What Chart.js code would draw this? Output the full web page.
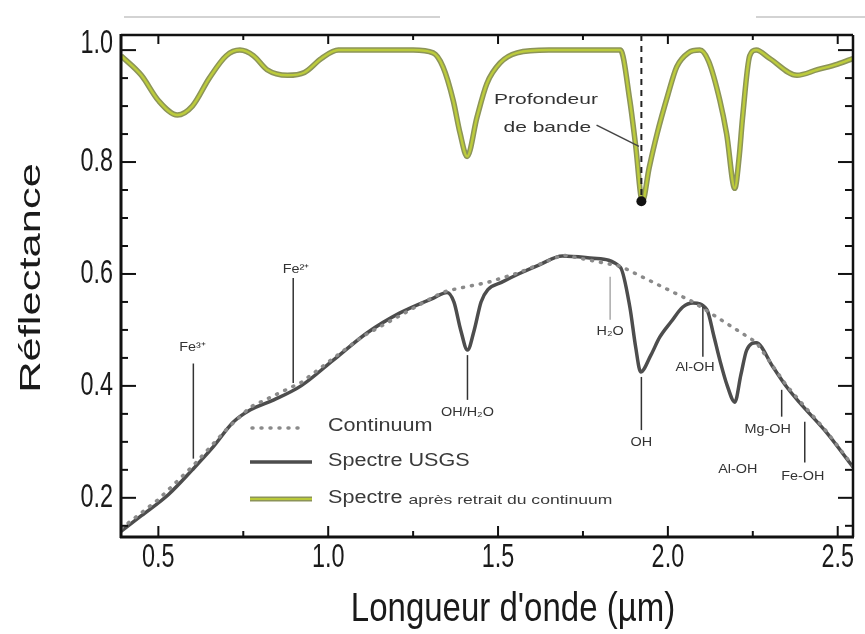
<!DOCTYPE html>
<html>
<head>
<meta charset="utf-8">
<script src="https://cdn.jsdelivr.net/npm/chart.js@4.4.1/dist/chart.umd.min.js"></script>
<style>
  html, body { margin: 0; padding: 0; background: #fff; }
  #wrap { width: 865px; height: 634px; }
</style>
</head>
<body>
<div id="wrap"><canvas id="chart" width="865" height="634"></canvas></div>
<script>
// spectre apres retrait du continuum
const wlRemoved = [0.39, 0.45, 0.50, 0.556, 0.60, 0.65, 0.70, 0.74, 0.78, 0.82, 0.88, 0.93, 0.98, 1.03, 1.15, 1.25, 1.309,
  1.338, 1.368, 1.388, 1.409, 1.438, 1.467, 1.506, 1.556, 1.65, 1.80, 1.86, 1.888, 1.905, 1.925, 1.945, 1.968, 2.0,
  2.026, 2.06, 2.094, 2.12, 2.153, 2.173, 2.197, 2.21, 2.22, 2.241, 2.26, 2.30, 2.38, 2.44, 2.50, 2.545];
const reflRemoved = [0.99, 0.955, 0.91, 0.884, 0.90, 0.95, 0.99, 1.0, 0.99, 0.965, 0.955, 0.96, 0.985, 1.0, 1.0, 1.0, 0.995,
  0.97, 0.91, 0.852, 0.81, 0.88, 0.94, 0.977, 0.995, 1.0, 1.0, 1.0, 0.91, 0.83, 0.73, 0.79, 0.85, 0.92,
  0.97, 0.995, 1.0, 0.98, 0.91, 0.85, 0.753, 0.81, 0.88, 0.99, 1.0, 0.985, 0.955, 0.965, 0.975, 0.985];

// spectre USGS
const wlUsgs = [0.39, 0.45, 0.53, 0.60, 0.66, 0.72, 0.77, 0.84, 0.92, 1.015, 1.115, 1.21, 1.31, 1.35, 1.37, 1.39, 1.41,
  1.43, 1.45, 1.47, 1.51, 1.56, 1.62, 1.69, 1.78, 1.86, 1.888, 1.905, 1.92, 1.95, 1.976, 2.01, 2.044, 2.074, 2.115,
  2.135, 2.153, 2.175, 2.197, 2.215, 2.232, 2.26, 2.309, 2.35, 2.388, 2.468, 2.545];
const reflUsgs = [0.14, 0.168, 0.206, 0.25, 0.29, 0.335, 0.357, 0.375, 0.40, 0.446, 0.495, 0.53, 0.557, 0.567, 0.55, 0.50, 0.464,
  0.50, 0.55, 0.572, 0.585, 0.60, 0.616, 0.632, 0.628, 0.612, 0.541, 0.47, 0.425, 0.455, 0.487, 0.515, 0.541, 0.548, 0.536,
  0.49, 0.446, 0.40, 0.371, 0.42, 0.464, 0.477, 0.434, 0.398, 0.37, 0.316, 0.255];

// continuum
const wlContinuum = [0.39, 0.50, 0.60, 0.70, 0.77, 0.92, 1.10, 1.31, 1.35, 1.47, 1.56, 1.69, 1.86, 2.074, 2.26, 2.35, 2.468, 2.545];
const reflContinuum = [0.145, 0.197, 0.256, 0.322, 0.362, 0.406, 0.488, 0.559, 0.57, 0.585, 0.602, 0.634, 0.614, 0.55, 0.478, 0.40, 0.318, 0.257];

const xTickValues = [0.5, 1.0, 1.5, 2.0, 2.5];
const xTickLabels = ["0.5", "1.0", "1.5", "2.0", "2.5"];
const yTickValues = [0.2, 0.4, 0.6, 0.8, 1.0];
const yTickLabels = ["0.2", "0.4", "0.6", "0.8", "1.0"];
const xMinorTicks = [0.75, 1.25, 1.75, 2.25];
const yMinorTicks = [0.15, 0.25, 0.3, 0.35, 0.45, 0.5, 0.55, 0.65, 0.7, 0.75, 0.85, 0.9, 0.95];

// bandes d'absorption: longueur d'onde, trait de/vers, position du texte
const bandNames = ["Fe³⁺", "Fe²⁺", "OH/H₂O", "H₂O", "OH", "Al-OH", "Al-OH", "Mg-OH", "Fe-OH"];
const bandWl = [0.603, 0.897, 1.41, 1.83, 1.922, 2.103, 2.206, 2.335, 2.403];
const bandLineTop = [0.44, 0.593, 0.455, 0.595, 0.416, 0.541, null, 0.393, 0.336];
const bandLineBottom = [0.27, 0.405, 0.375, 0.518, 0.321, 0.452, null, 0.345, 0.263];
const bandTextWl = [0.60, 0.905, 1.41, 1.83, 1.922, 2.08, 2.206, 2.294, 2.397];
const bandTextRefl = [0.468, 0.608, 0.352, 0.496, 0.298, 0.432, 0.25, 0.321, 0.2375];

// profondeur de bande a 1.9 um
const depthWl = 1.922;
const depthRefl = 0.73;

const legendLabels = ["Continuum", "Spectre USGS", "Spectre", "après retrait du continuum"];

const zip = (xs, ys) => xs.map((x, i) => ({ x: x, y: ys[i] }));
const FONT = '"Liberation Sans", Arial, sans-serif';

function stretchText(ctx, str, x, y, size, sx, sy, align, rot) {
  ctx.save();
  ctx.translate(x, y);
  if (rot) ctx.rotate(rot);
  ctx.scale(sx, sy);
  ctx.font = size + "px " + FONT;
  ctx.textAlign = align || "center";
  ctx.textBaseline = "middle";
  ctx.fillText(str, 0, 0);
  ctx.restore();
}

function line(ctx, x1, y1, x2, y2) {
  ctx.beginPath();
  ctx.moveTo(x1, y1);
  ctx.lineTo(x2, y2);
  ctx.stroke();
}

const decor = {
  id: "decor",
  beforeDraw(chart) {
    const ctx = chart.ctx;
    ctx.save();
    ctx.fillStyle = "#fff";
    ctx.fillRect(0, 0, chart.width, chart.height);
    // filet gris au-dessus du cadre
    ctx.strokeStyle = "#c4c4c4";
    ctx.lineWidth = 1.5;
    line(ctx, 124, 17, 440, 17);
    line(ctx, 756, 17, 865, 17);
    ctx.restore();
  },
  afterDraw(chart) {
    const ctx = chart.ctx;
    const xs = chart.scales.x, ys = chart.scales.y;
    const a = chart.chartArea;
    const px = (v) => xs.getPixelForValue(v);
    const py = (v) => ys.getPixelForValue(v);
    ctx.save();

    // cadre
    ctx.strokeStyle = "#111";
    ctx.lineWidth = 3;
    line(ctx, a.left, a.top - 1, a.left, a.bottom + 1);
    line(ctx, a.left - 1, a.bottom, a.right + 1, a.bottom);
    ctx.lineWidth = 2.5;
    line(ctx, a.left, a.top, a.right, a.top);
    line(ctx, a.right, a.top, a.right, a.bottom);

    // graduations vers l'interieur
    ctx.lineWidth = 2;
    xTickValues.forEach((v) => {
      line(ctx, px(v), a.bottom, px(v), a.bottom - 11);
      line(ctx, px(v), a.top, px(v), a.top + 9);
    });
    xMinorTicks.forEach((v) => {
      line(ctx, px(v), a.bottom, px(v), a.bottom - 6);
      line(ctx, px(v), a.top, px(v), a.top + 5);
    });
    yTickValues.forEach((v) => {
      line(ctx, a.left, py(v), a.left + 15, py(v));
      line(ctx, a.right, py(v), a.right - 15, py(v));
    });
    yMinorTicks.forEach((v) => {
      line(ctx, a.left, py(v), a.left + 7, py(v));
      line(ctx, a.right, py(v), a.right - 8, py(v));
    });

    // etiquettes des axes
    ctx.fillStyle = "#1a1a1a";
    xTickValues.forEach((v, i) => stretchText(ctx, xTickLabels[i], px(v), a.bottom + 21, 26, 0.9, 1.3, "center"));
    yTickValues.forEach((v, i) => stretchText(ctx, yTickLabels[i], a.left - 8, py(v) - (v === 1.0 ? 6 : 0), 26, 0.9, 1.3, "right"));
    stretchText(ctx, "Longueur d'onde (µm)", 513, 610, 30, 1.1, 1.35, "center");
    stretchText(ctx, "Réflectance", 32, 278, 30, 1.45, 1.0, "center", -Math.PI / 2);

    // bandes d'absorption
    ctx.lineWidth = 1.5;
    bandNames.forEach((name, i) => {
      if (bandLineTop[i] !== null) {
        ctx.strokeStyle = name === "H₂O" ? "#aaa" : "#333";
        line(ctx, px(bandWl[i]), py(bandLineTop[i]), px(bandWl[i]), py(bandLineBottom[i]));
      }
      ctx.fillStyle = "#333";
      stretchText(ctx, name, px(bandTextWl[i]), py(bandTextRefl[i]), 12, 1.2, 1.0, "center");
    });

    // profondeur de bande
    ctx.strokeStyle = "#222";
    ctx.lineWidth = 2;
    ctx.setLineDash([6, 5]);
    line(ctx, px(depthWl), a.top, px(depthWl), py(depthRefl));
    ctx.setLineDash([]);
    ctx.fillStyle = "#111";
    ctx.beginPath();
    ctx.arc(px(depthWl), py(depthRefl), 5, 0, Math.PI * 2);
    ctx.fill();
    ctx.lineWidth = 1.5;
    ctx.strokeStyle = "#444";
    line(ctx, px(1.79), py(0.866), px(1.915), py(0.828));
    ctx.fillStyle = "#333";
    stretchText(ctx, "Profondeur", px(1.641), py(0.911), 15, 1.4, 1.0, "center");
    stretchText(ctx, "de bande", px(1.645), py(0.861), 15, 1.4, 1.0, "center");

    // legende
    const lx0 = 250, lx1 = 312, tx = 328;
    const rows = [428, 462, 499];
    ctx.lineCap = "round";
    ctx.strokeStyle = "#8a8a8a";
    ctx.lineWidth = 3.5;
    ctx.setLineDash([1, 8]);
    line(ctx, lx0 + 2, rows[0], lx1 - 8, rows[0]);
    ctx.setLineDash([]);
    ctx.lineCap = "butt";
    ctx.strokeStyle = "#4d4d4d";
    ctx.lineWidth = 3.5;
    line(ctx, lx0, rows[1], lx1, rows[1]);
    ctx.strokeStyle = "#8c9458";
    ctx.lineWidth = 5;
    line(ctx, lx0, rows[2], lx1, rows[2]);
    ctx.strokeStyle = "#b9c93a";
    ctx.lineWidth = 2.2;
    line(ctx, lx0, rows[2], lx1, rows[2]);

    ctx.fillStyle = "#3a3a3a";
    stretchText(ctx, legendLabels[0], tx, rows[0] - 2, 18, 1.2, 1.0, "left");
    stretchText(ctx, legendLabels[1], tx, rows[1] - 1, 18, 1.2, 1.0, "left");
    stretchText(ctx, legendLabels[2], tx, rows[2] - 1, 18, 1.2, 1.0, "left");
    ctx.font = "18px " + FONT;
    const w = ctx.measureText(legendLabels[2] + " ").width * 1.2;
    stretchText(ctx, legendLabels[3], tx + w, rows[2] + 1, 13, 1.35, 1.0, "left");

    ctx.restore();
  }
};

new Chart(document.getElementById("chart"), {
  type: "line",
  data: {
    datasets: [
      {
        label: "Continuum",
        data: zip(wlContinuum, reflContinuum),
        borderColor: "#8a8a8a",
        borderWidth: 3.5,
        borderDash: [1, 8],
        borderCapStyle: "round",
        pointRadius: 0,
        tension: 0,
        order: 1
      },
      {
        label: "Spectre USGS",
        data: zip(wlUsgs, reflUsgs),
        borderColor: "#4d4d4d",
        borderWidth: 3.5,
        pointRadius: 0,
        cubicInterpolationMode: "monotone",
        order: 2
      },
      {
        label: "Spectre après retrait du continuum",
        data: zip(wlRemoved, reflRemoved),
        borderColor: "#8c9458",
        borderWidth: 5.5,
        pointRadius: 0,
        cubicInterpolationMode: "monotone",
        order: 4
      },
      {
        label: "Spectre après retrait du continuum (coeur)",
        data: zip(wlRemoved, reflRemoved),
        borderColor: "#bccb3c",
        borderWidth: 2.5,
        pointRadius: 0,
        cubicInterpolationMode: "monotone",
        order: 3
      }
    ]
  },
  options: {
    responsive: false,
    animation: false,
    devicePixelRatio: 1,
    layout: { padding: { left: 121, right: 12, top: 35, bottom: 97 } },
    plugins: { legend: { display: false }, tooltip: { enabled: false } },
    scales: {
      x: {
        type: "linear",
        min: 0.39,
        max: 2.545,
        grid: { display: false },
        border: { display: false },
        ticks: { display: false },
        afterFit: (s) => { s.height = 0; }
      },
      y: {
        min: 0.13,
        max: 1.027,
        grid: { display: false },
        border: { display: false },
        ticks: { display: false },
        afterFit: (s) => { s.width = 0; }
      }
    }
  },
  plugins: [decor]
});
</script>
</body>
</html>
